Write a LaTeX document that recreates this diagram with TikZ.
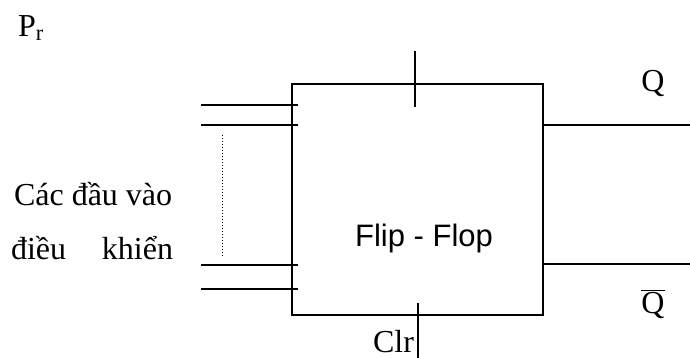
\documentclass[tikz,border=0pt]{standalone}
\usepackage{fontspec}
\setmainfont{Liberation Serif}
\newfontfamily\ffsans{Liberation Sans}
\begin{document}
\begin{tikzpicture}[x=1pt,y=-1pt,line width=2pt,
  big/.style={font=\fontsize{32}{38}\selectfont,inner sep=0pt},
  pin/.style={line width=2pt}]
  \useasboundingbox (0,0) rectangle (690,358);
  % the flip-flop box
  \node[draw,minimum width=251pt,minimum height=231pt,inner sep=0pt] (ff) at (417.5,199.5) {};
  \node[big,font=\ffsans\fontsize{31}{37}\selectfont,anchor=base] (name) at (424,246) {Flip - Flop};
  % control inputs
  \foreach \yy [count=\i] in {104.7,125.3,265.3,289.3} {
    \coordinate (in\i) at (201,\yy);
    \draw[pin] (in\i) -- ++(97,0);
  }
  \coordinate (dtop) at (222,135);
  \coordinate (dbot) at (222,257);
  \draw[dotted,line width=1pt] (dtop) -- (dbot);
  % preset and clear
  \coordinate (prtop) at (415,51);
  \draw[pin] (prtop) -- ++(0,56);
  \coordinate (clrtop) at (418,303);
  \draw[pin] (clrtop) -- ++(0,55);
  % outputs
  \coordinate (qend) at (690,125.3);
  \coordinate (nqend) at (690,264);
  \draw[pin] (ff.east |- qend) -- (qend);
  \draw[pin] (ff.east |- nqend) -- (nqend);
  % labels
  \node[big,anchor=base west] (pr) at (17,37) {P\textsubscript{r}};
  \node[big,anchor=base] (q) at (653,92) {Q};
  \node[big,anchor=base] (nq) at (653,313) {$\overline{\hbox{Q}}$};
  \node[big,anchor=base east] (clr) at (415,352) {Clr};
  \node[big,anchor=base west] (ctl1) at (13,205) {Các đầu vào};
  \node[big,anchor=base west] (ctl2) at (10,259) {\hbox to 162pt{điều\hfill khiển}};
\end{tikzpicture}
\end{document}
